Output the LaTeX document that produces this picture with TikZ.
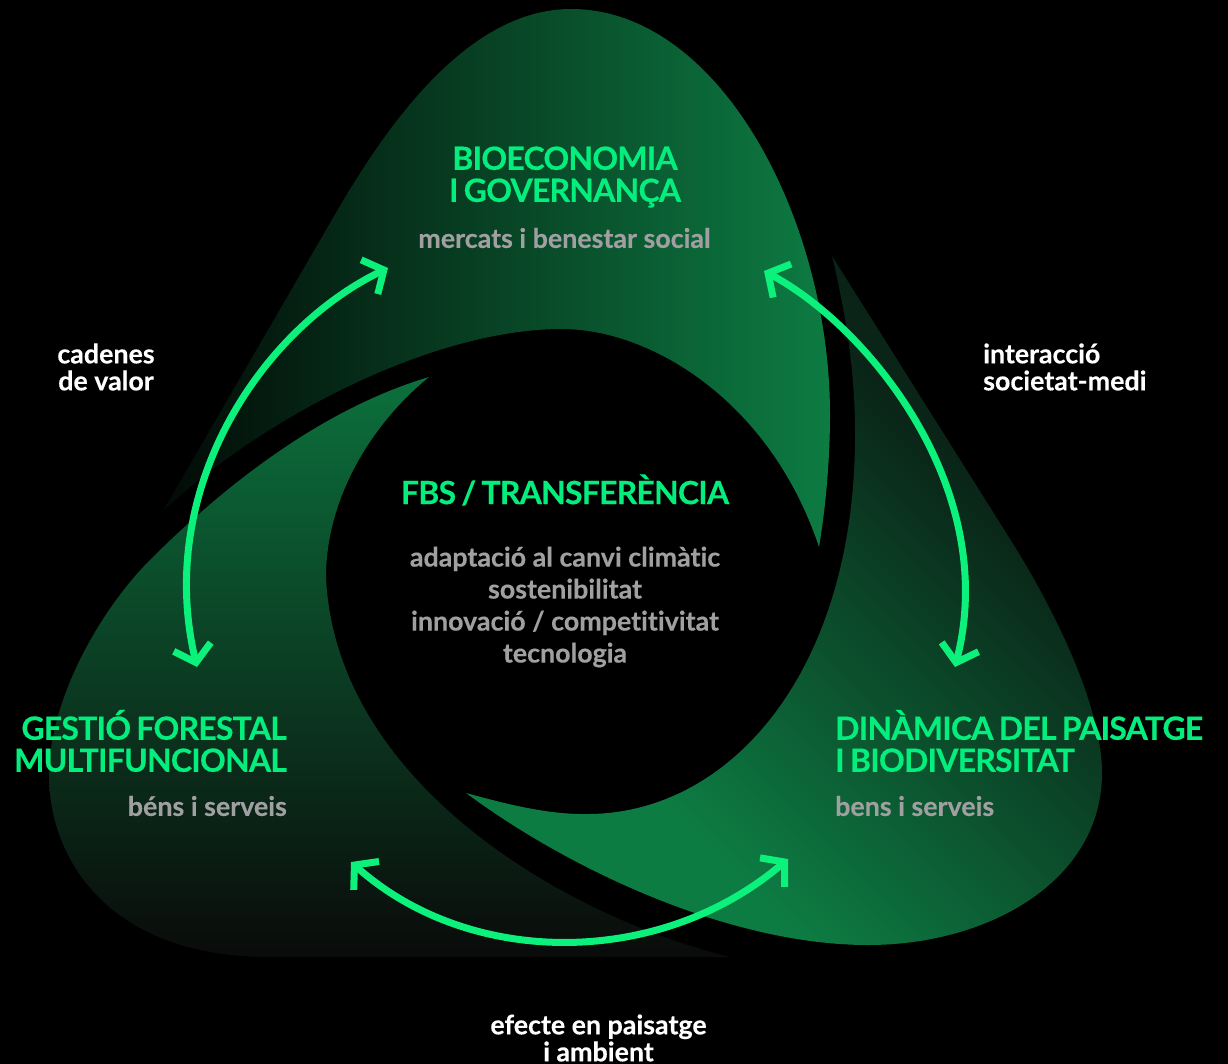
\documentclass[tikz,border=0pt]{standalone}
\usepackage{fontspec}
\setmainfont{Lato}[Ligatures=NoCommon,BoldFeatures={FakeBold=0.3}]
\newfontfamily\titlefont{Lato}[LetterSpace=-2.5,WordSpace=0.75,Ligatures=NoCommon,BoldFeatures={FakeBold=0.3}]
\usetikzlibrary{arrows.meta}
\definecolor{flowgreen}{HTML}{0CF07C}
\definecolor{titlegreen}{HTML}{03EE7C}
\definecolor{subgray}{HTML}{A0A0A2}
\definecolor{bladehi}{HTML}{0D7C43}
\definecolor{bladelo}{HTML}{0A2618}
\definecolor{bladeend}{HTML}{081C12}
\definecolor{bladefoot}{HTML}{0A0B0A}
\pgfdeclareverticalshading{rightblade}{100bp}{color(0bp)=(bladehi);color(35bp)=(bladehi);color(62.5bp)=(bladelo);color(75bp)=(bladeend);color(100bp)=(bladeend)}
\tikzset{
  x=1pt,y=-1pt,
  flow/.style={draw=flowgreen,line width=7pt,{Straight Barb[length=16pt,width=38pt,line width=7pt]}-{Straight Barb[length=16pt,width=38pt,line width=7pt]}},
  titletext/.style={text=titlegreen,inner sep=0pt,font=\fontsize{32}{32}\selectfont\titlefont\bfseries},
  subtext/.style={text=subgray,inner sep=0pt,font=\fontsize{26.8}{32}\selectfont\bfseries},
  flowtext/.style={text=white,inner sep=0pt,font=\fontsize{26.8}{27}\selectfont\bfseries},
}
\begin{document}
\begin{tikzpicture}
\useasboundingbox (0,0) rectangle (1228,1064);
\fill[black] (0,0) rectangle (1228,1064);
% top blade
\begin{scope}
\clip (819,547) .. controls (827,500) and (830,450) .. (830,415)
  .. controls (830,220) and (720,9) .. (571,9)
  .. controls (470,9) and (390,120) .. (337,211)
  -- (163,511)
  .. controls (260,420) and (430,329) .. (562,329)
  .. controls (650,329) and (770,400) .. (819,547) -- cycle;
\shade[left color=black!75!bladelo,right color=bladehi] (160,0) rectangle (832,560);
\end{scope}
% left blade
\begin{scope}
\clip (429,377) .. controls (335,405) and (240,470) .. (150,560)
  .. controls (100,610) and (49,700) .. (49,775)
  .. controls (49,860) and (110,957) .. (269,957)
  -- (730,957)
  .. controls (560,915) and (335,780) .. (326,577)
  .. controls (326,500) and (370,425) .. (429,377) -- cycle;
\shade[top color=bladehi!90!black,bottom color=bladefoot] (40,377) rectangle (740,957);
\end{scope}
% right blade
\begin{scope}
\clip (832,256) -- (1015,547)
  .. controls (1060,620) and (1102,710) .. (1102,773)
  .. controls (1102,880) and (990,945) .. (868,945)
  .. controls (730,945) and (570,870) .. (466,793)
  .. controls (510,805) and (550,815) .. (590,814)
  .. controls (735,812) and (857,665) .. (855,430)
  .. controls (855,370) and (845,310) .. (832,256) -- cycle;
\shade[shading=rightblade,shading angle=-45] (400,200) rectangle (1200,1000);
\end{scope}
% connector end points
\coordinate (gaTop) at (388,268);
\coordinate (gaLeft) at (197,667);
\coordinate (giTop) at (764,271);
\coordinate (giRight) at (955,667);
\coordinate (geLeft) at (351,862);
\coordinate (geRight) at (788,859);
\draw[flow] (gaTop) .. controls (260,330) and (155,490) .. (gaLeft);
\draw[flow] (giTop) .. controls (870,328) and (1000,490) .. (giRight);
\draw[flow] (geLeft) .. controls (470,968) and (660,968) .. (geRight);
% texts
\node[titletext,align=center] (bioTitle) at (565,177) {BIOECONOMIA\\I GOVERNANÇA};
\node[subtext] (bioSub) at (564.5,238) {mercats i benestar social};
\node[titletext] (fbsTitle) at (565,490) {FBS / TRANSFERÈNCIA};
\node[subtext,align=center] (fbsSub) at (565,607) {adaptació al canvi climàtic\\sostenibilitat\\innovació / competitivitat\\tecnologia};
\node[titletext,align=right,anchor=east] (gesTitle) at (287,741) {GESTIÓ FORESTAL\\MULTIFUNCIONAL};
\node[subtext,anchor=east] (gesSub) at (287,806) {béns i serveis};
\node[titletext,align=left,anchor=west] (dinTitle) at (835,741) {DINÀMICA DEL PAISATGE\\I BIODIVERSITAT};
\node[subtext,anchor=west] (dinSub) at (835,806) {bens i serveis};
\node[flowtext,align=center] (cadLabel) at (106,367) {cadenes\\de valor};
\node[flowtext,align=left,anchor=west] (intLabel) at (983,367) {interacció\\societat-medi};
\node[flowtext,align=center] (efeLabel) at (598.5,1038) {efecte en paisatge\\i ambient};
\end{tikzpicture}
\end{document}
